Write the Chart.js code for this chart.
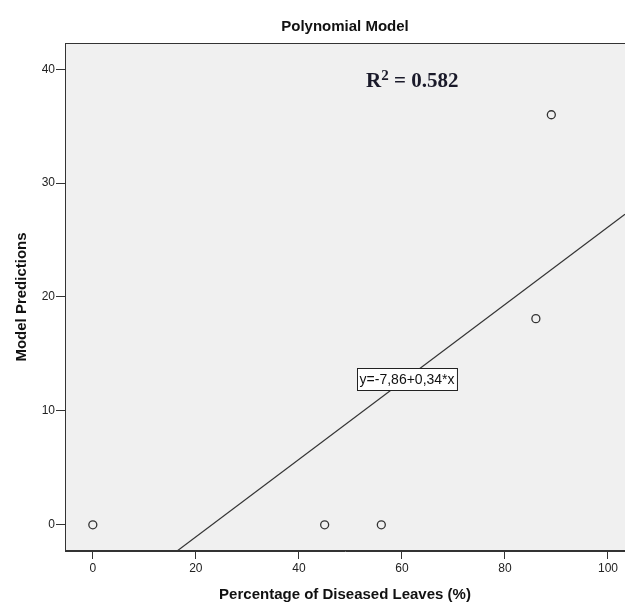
<!DOCTYPE html>
<html>
<head>
<meta charset="utf-8">
<script src="https://cdn.jsdelivr.net/npm/chart.js@4.4.1/dist/chart.umd.min.js"></script>
<style>
  html, body { margin: 0; padding: 0; background: #fff; }
  canvas { display: block; }
</style>
</head>
<body>
<canvas id="myChart" width="625" height="606"></canvas>
<script>
// observed data (x = % diseased leaves, y = model prediction)
const diseased = [0, 45, 56, 86, 89];
const predicted = [0, 0, 0, 18.1, 36];
const xTicks = [0, 20, 40, 60, 80, 100];
const yTicks = [0, 10, 20, 30, 40];
const fitIntercept = -7.86;
const fitSlope = 0.34;
const rSquared = '0.582';
const fitLabel = 'y=-7,86+0,34*x';

const xMin = -5.4, xMax = 103.3;
const yMin = -2.3, yMax = 42.3;

const fitLine = [xMin, xMax].map(x => ({ x: x, y: fitIntercept + fitSlope * x }));

const sans = '"Liberation Sans", Arial, sans-serif';
const serif = '"Liberation Serif", "Times New Roman", serif';

const notes = {
    id: 'notes',
    beforeDraw(chart) {
        const { ctx, chartArea: a } = chart;
        ctx.save();
        ctx.fillStyle = '#f0f0f0';
        ctx.fillRect(a.left, a.top, a.right - a.left, a.bottom - a.top);
        ctx.restore();
    },
    afterDatasetsDraw(chart) {
        const { ctx, chartArea: a, scales } = chart;
        ctx.save();
        // plot frame
        ctx.strokeStyle = '#333';
        ctx.lineWidth = 1;
        ctx.strokeRect(a.left + 0.5, a.top + 0.5, a.right - a.left, a.bottom - a.top - 1);

        // R squared
        const rx = scales.x.getPixelForValue(62);
        const ry = scales.y.getPixelForValue(38.9);
        ctx.fillStyle = '#1a1a2a';
        ctx.textBaseline = 'middle';
        const big = 'bold 21px ' + serif, small = 'bold 15px ' + serif;
        ctx.font = big;
        const w1 = ctx.measureText('R').width;
        const rest = ' = ' + rSquared;
        const w3 = ctx.measureText(rest).width;
        ctx.font = small;
        const w2 = ctx.measureText('2').width;
        const x0 = rx - (w1 + w2 + w3) / 2;
        ctx.textAlign = 'left';
        ctx.font = big;
        ctx.fillText('R', x0, ry);
        ctx.fillText(rest, x0 + w1 + w2, ry);
        ctx.font = small;
        ctx.fillText('2', x0 + w1, ry - 6);

        // equation box
        const ex = scales.x.getPixelForValue(61);
        const ey = scales.y.getPixelForValue(12.8);
        ctx.font = '14px ' + sans;
        const tw = ctx.measureText(fitLabel).width;
        const bw = tw + 5, bh = 22;
        const bx = Math.round(ex - bw / 2) + 0.5, by = Math.round(ey - bh / 2) + 0.5;
        ctx.fillStyle = '#fff';
        ctx.fillRect(bx, by, bw, bh);
        ctx.strokeStyle = '#222';
        ctx.strokeRect(bx, by, bw, bh);
        ctx.fillStyle = '#111';
        ctx.textAlign = 'center';
        ctx.fillText(fitLabel, ex, ey + 1);
        ctx.restore();
    }
};

const ctx = document.getElementById('myChart').getContext('2d');
const chart = new Chart(ctx, {
    type: 'scatter',
    data: {
        datasets: [{
            type: 'line',
            label: 'Fit',
            data: fitLine,
            borderColor: '#333',
            borderWidth: 1.2,
            pointRadius: 0,
            fill: false
        }, {
            label: 'Observed',
            data: diseased.map((x, i) => ({ x: x, y: predicted[i] })),
            pointRadius: 4,
            pointBorderWidth: 1.3,
            borderColor: '#333',
            backgroundColor: 'rgba(0,0,0,0)'
        }]
    },
    options: {
        responsive: false,
        animation: false,
        layout: { padding: 0, autoPadding: false },
        plugins: {
            legend: { display: false },
            tooltip: { enabled: false },
            title: {
                display: true,
                fullSize: false,
                text: 'Polynomial Model',
                color: '#111',
                font: { family: sans, size: 15, weight: 'bold' },
                padding: { top: 18, bottom: 7 }
            }
        },
        scales: {
            x: {
                type: 'linear',
                min: xMin,
                max: xMax,
                afterBuildTicks: s => { s.ticks = xTicks.map(v => ({ value: v })); },
                afterFit: s => { s.height = 55; s.paddingLeft = 0; s.paddingRight = 0; },
                grid: { drawOnChartArea: false, tickLength: 8, color: '#333' },
                border: { color: '#333' },
                ticks: {
                    color: '#222',
                    padding: 2,
                    maxRotation: 0,
                    font: { family: sans, size: 12 }
                },
                title: {
                    display: true,
                    text: 'Percentage of Diseased Leaves (%)',
                    color: '#111',
                    font: { family: sans, size: 15, weight: 'bold' },
                    padding: { top: 0, bottom: 2 }
                }
            },
            y: {
                type: 'linear',
                min: yMin,
                max: yMax,
                afterBuildTicks: s => { s.ticks = yTicks.map(v => ({ value: v })); },
                afterFit: s => { s.width = 65; s.paddingTop = 0; s.paddingBottom = 0; },
                grid: { drawOnChartArea: false, tickLength: 9, color: '#333' },
                border: { color: '#333' },
                ticks: {
                    color: '#222',
                    padding: 1,
                    font: { family: sans, size: 12 }
                },
                title: {
                    display: true,
                    text: 'Model Predictions',
                    color: '#111',
                    font: { family: sans, size: 15, weight: 'bold' },
                    padding: { top: 13, bottom: 0 }
                }
            }
        }
    },
    plugins: [notes]
});
</script>
</body>
</html>
